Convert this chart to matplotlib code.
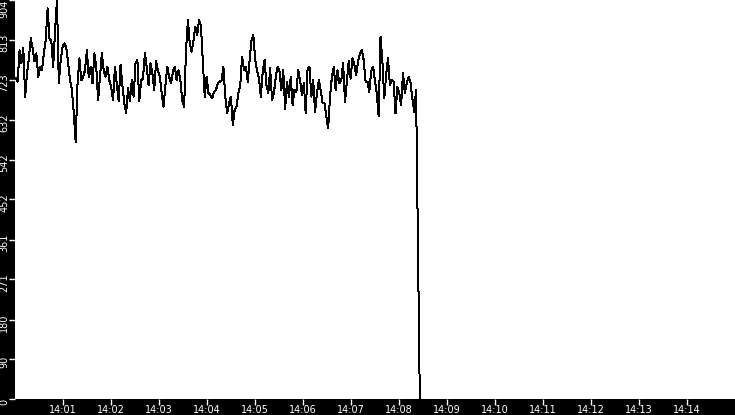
import numpy as np
import matplotlib
matplotlib.use("Agg")
import matplotlib.pyplot as plt
import matplotlib.transforms as mtransforms

# samples, one every STEP_SEC seconds starting START_SEC after 14:00:00
START_SEC = 1.0
STEP_SEC = 2.338

values = [
    727, 719, 790, 761, 795, 685, 738, 772, 817, 795, 765, 783, 730, 753, 745,
    783, 813, 885, 817, 810, 753, 836, 904, 715, 768, 798, 806, 795, 761, 722,
    700, 647, 582, 715, 772, 722, 730, 745, 790, 730, 753, 715, 783, 753, 677,
    730, 783, 745, 730, 753, 722, 707, 677, 753, 715,
    675, 757, 711, 670, 647, 704, 675, 722, 685, 761, 768, 675, 722, 726, 783,
    753, 711, 761, 738, 700, 765, 745, 730, 693, 662, 711, 753, 730, 715, 742,
    753, 722, 745, 722, 677, 662, 790, 859, 806, 787, 813, 844, 825, 859, 844,
    765, 685, 730, 693, 689, 681, 696, 700, 715, 719,
    722, 753, 685, 647, 670, 685, 621, 655, 662, 693, 711, 776, 745, 753, 719,
    765, 813, 825, 768, 745, 726, 685, 742, 768, 711, 693, 749, 677, 693, 730,
    753, 742, 700, 745, 658, 719, 685, 730, 666, 700, 696, 745, 722, 689, 715,
    647, 749, 753, 685, 722, 651, 693, 722, 700, 670,
    670, 640, 613, 685, 730, 753, 700, 745, 715, 722, 761, 673, 719, 765, 726,
    772, 757, 734, 765, 783, 790, 768, 719, 719, 696, 742, 753, 722, 693, 640,
    821, 765, 681, 734, 772, 711, 722, 719, 647, 707, 693, 666, 738, 693, 715,
    730, 719, 681, 651, 700,
    345, 0,
]

y_ticks = [0, 90, 180, 271, 361, 452, 542, 632, 723, 813, 904]
x_tick_sec = [60 * m for m in range(1, 15)]
x_tick_labels = ["14:%02d" % m for m in range(1, 15)]

times = START_SEC + STEP_SEC * np.arange(len(values))

fig = plt.figure(figsize=(7.35, 4.15), dpi=100, facecolor="black")
ax = fig.add_axes([15 / 735, 16 / 415, 720 / 735, 399 / 415])
ax.set_facecolor("white")

ax.plot(times, values, color="black", lw=0.72, antialiased=False)

ax.set_xlim(0, 900)
ax.set_ylim(0, 904)
for s in ax.spines.values():
    s.set_visible(False)

ax.set_xticks(x_tick_sec)
ax.set_xticklabels(x_tick_labels)
ax.set_yticks(y_ticks)
ax.set_yticklabels([str(v) for v in y_ticks], rotation=90, va="center")

ax.tick_params(axis="both", colors="white", labelcolor="white", labelsize=7,
               length=4, width=1, direction="out", pad=0)

# nudge y labels a little below their ticks, keep the top one inside the figure
shift = mtransforms.ScaledTranslation(0, -3 / 100, fig.dpi_scale_trans)
labels = ax.get_yticklabels()
for lab in labels[:-1]:
    lab.set_transform(lab.get_transform() + shift)
labels[-1].set_va("top")

fig.savefig("out.png", dpi=100, facecolor="black")
